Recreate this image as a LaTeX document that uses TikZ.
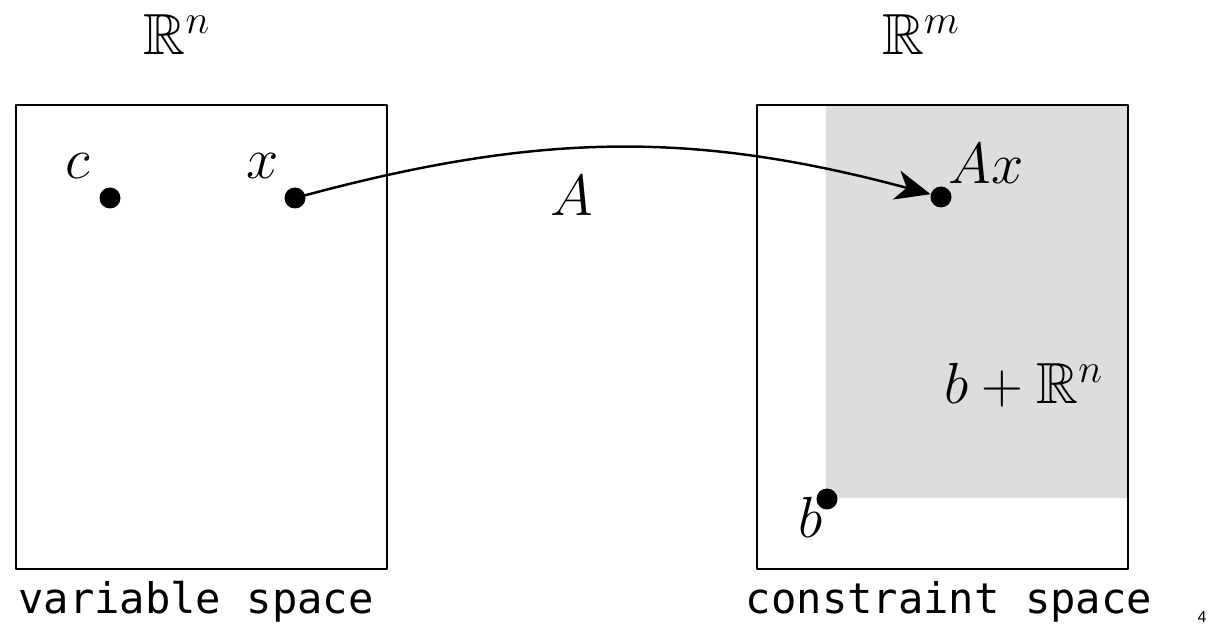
\RequirePackage{fix-cm}
\documentclass[tikz,border=0pt]{standalone}
\usepackage{amssymb}
\usepackage{fontspec}
\setmonofont{DejaVu Sans Mono}
\setsansfont{Liberation Sans}
\usetikzlibrary{arrows.meta}
\definecolor{setfill}{RGB}{221,221,221}
\tikzset{
    lab/.style={
        font=\fontsize{33}{38}\selectfont, inner sep=1pt
    }
}
\begin{document}
\begin{tikzpicture}[x=0.02cm,y=0.02cm, line cap=round, line join=round]

\tikzset{
  frame/.style={draw=black, line width=1.1pt},
  pt/.style={circle, fill=black, minimum size=21*0.02cm, inner sep=0pt},
  spacecap/.style={font=\fontsize{24}{28}\selectfont\ttfamily, inner sep=1pt},
  arr/.style={line width=1.4pt, -{Stealth[length=20pt, width=17pt, inset=6pt]}},
}

\useasboundingbox (0,0) rectangle (1218,626);

% shaded set b + R^n
\fill[setfill] (826,128) rectangle (1128,521);

% the two spaces
\draw[frame] (16,57) rectangle (387,521);
\draw[frame] (757,57) rectangle (1128,521);

% points
\node[pt] (c) at (110,428) {};
\node[pt] (x) at (295,428) {};
\node[pt] (Ax) at (941,429) {};
\node[pt] (b) at (827,127) {};

% map A
\draw[arr] (x) to[out=15,in=165] (Ax);

% labels
\node[lab] (clab) at (78,460) {$c$};
\node[lab] (xlab) at (263,460) {$x$};
\node[lab] (Alab) at (572,430) {$A$};
\node[lab] (Axlab) at (986,462) {$Ax$};
\node[lab] (blab) at (811,109) {$b$};
\node[lab] (setlab) at (1024,241) {$b+\mathbb{R}^n$};
\node[lab] (Rn) at (177,591) {$\mathbb{R}^n$};
\node[lab] (Rm) at (921,591) {$\mathbb{R}^m$};

% captions
\node[spacecap] (varcap) at (196,24) {variable space};
\node[spacecap] (concap) at (949,24) {constraint space};
\node[font=\fontsize{9}{10}\sffamily] (page) at (1202,9) {4};

\end{tikzpicture}
\end{document}
